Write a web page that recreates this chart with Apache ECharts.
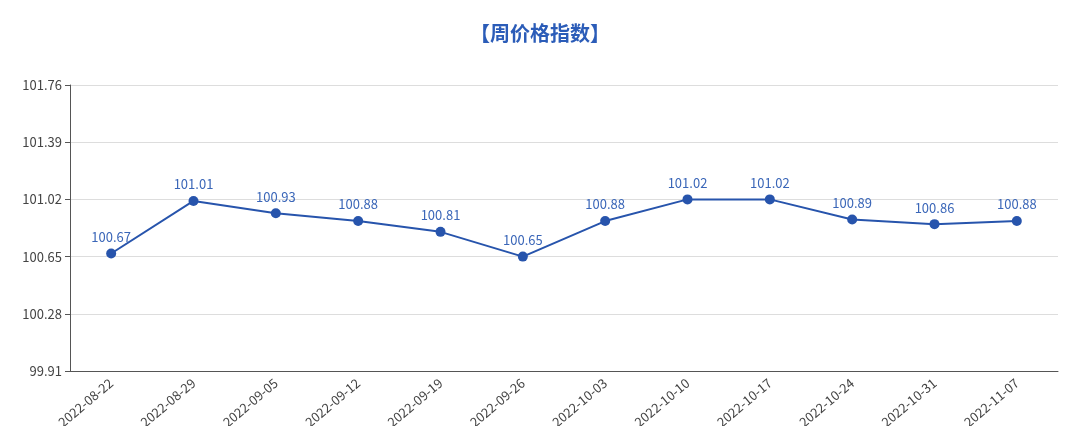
<!DOCTYPE html>
<html>
<head>
<meta charset="utf-8">
<script src="https://cdn.jsdelivr.net/npm/echarts@6/dist/echarts.min.js"></script>
<style>
  html, body { margin:0; padding:0; background:#fff; }
  #chart { width:1080px; height:426px; }
</style>
</head>
<body>
<div id="chart"></div>
<script>
// 周价格指数
const weeks = ["2022-08-22","2022-08-29","2022-09-05","2022-09-12","2022-09-19","2022-09-26",
  "2022-10-03","2022-10-10","2022-10-17","2022-10-24","2022-10-31","2022-11-07"];
const priceIndex = [100.67,101.01,100.93,100.88,100.81,100.65,100.88,101.02,101.02,100.89,100.86,100.88];
const yMin = 99.91, yMax = 101.76, yStep = 0.37;

const lineColor = "#2754ac";
const font = "'Noto Sans CJK SC', 'Microsoft YaHei', sans-serif";

const myChart = echarts.init(document.getElementById("chart"));
myChart.setOption({
  animation:false,
  textStyle:{fontFamily:font},
  title:{
    text:"【周价格指数】", left:"center", top:18,
    textStyle:{color:"#2b5cb8", fontSize:20, fontWeight:"bold", fontFamily:font}
  },
  grid:{left:70, right:22, top:85, bottom:55, outerBoundsMode:"none"},
  xAxis:{
    type:"category", data:weeks, boundaryGap:true,
    axisLine:{lineStyle:{color:"#555"}},
    axisTick:{lineStyle:{color:"#555"}},
    axisLabel:{rotate:40, color:"#444", fontSize:13, margin:10}
  },
  yAxis:{
    type:"value", min:yMin, max:yMax, interval:yStep,
    axisLine:{show:true, lineStyle:{color:"#555"}},
    axisTick:{show:true, lineStyle:{color:"#555"}},
    axisLabel:{color:"#444", fontSize:13, formatter:v=>v.toFixed(2)},
    splitLine:{lineStyle:{color:"#ddd"}}
  },
  series:[{
    type:"line", data:priceIndex,
    symbol:"circle", symbolSize:10,
    lineStyle:{color:lineColor, width:2},
    itemStyle:{color:lineColor},
    label:{show:true, position:"top", color:"#3a66b8", fontSize:13}
  }]
});
</script>
</body>
</html>
